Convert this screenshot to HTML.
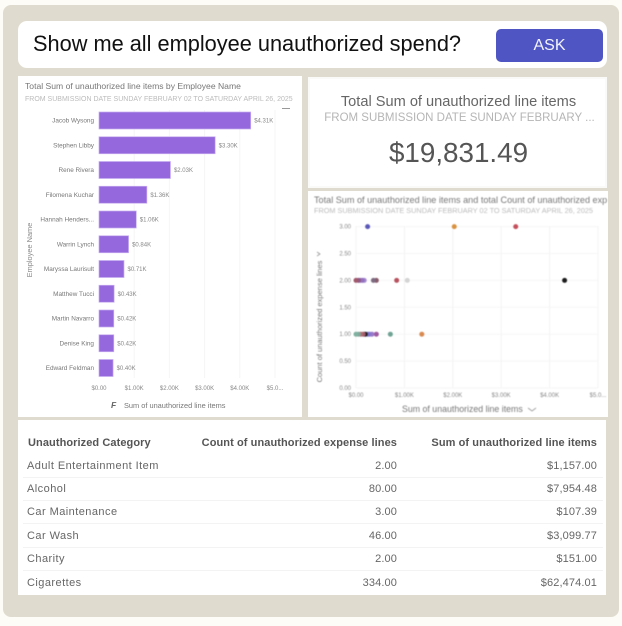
<!DOCTYPE html>
<html>
<head>
<meta charset="utf-8">
<style>
html,body{margin:0;padding:0;width:622px;height:626px;overflow:hidden;background:#fdfcf6;font-family:"Liberation Sans",sans-serif;}
.abs{position:absolute;}
#card{left:3px;top:5px;width:616px;height:612px;background:#dfdccf;border-radius:8px;}
#ask-bar{left:18px;top:21px;width:589px;height:47px;background:#fff;border-radius:9px;}
#q{left:33px;top:29px;font-size:21.75px;line-height:30px;color:#111;white-space:nowrap;filter:blur(.3px);}
#btn{left:496px;top:29px;width:107px;height:33px;background:#4f56c4;border-radius:5px;color:#f4f4fb;font-size:16px;line-height:33px;text-align:center;filter:blur(.3px);}
.panel{background:#fff;}
#bar-panel{left:18px;top:76px;width:284px;height:341px;}
#kpi-panel{left:308px;top:77px;width:299px;height:111px;background:#fff;box-sizing:border-box;border:2px solid #fafaf8;}
#kpi-t{left:309px;top:94px;width:299px;text-align:center;font-size:14.6px;color:#666;white-space:nowrap;filter:blur(.3px);}
#kpi-s{left:310px;top:111.5px;width:299px;text-align:center;font-size:11.5px;color:#b5b5b5;white-space:nowrap;filter:blur(.3px);}
#kpi-v{left:309px;top:137px;width:299px;text-align:center;font-size:27.8px;color:#555;filter:blur(.3px);}
#sc-panel{left:308px;top:191px;width:300px;height:226px;overflow:hidden;}
#table-panel{left:18px;top:420px;width:588px;height:175px;background:#fff;}
svg{position:absolute;left:0;top:0;}
svg text{font-family:"Liberation Sans",sans-serif;}
.cell{position:absolute;font-size:11px;letter-spacing:.45px;color:#666;white-space:nowrap;line-height:14px;filter:blur(.35px);font-family:"Liberation Sans",sans-serif;}
.h{font-weight:bold;color:#555;letter-spacing:.08px;}
.num{letter-spacing:.12px;}
.rule{position:absolute;left:23px;width:580px;height:1px;background:#f3f3f3;}
</style>
</head>
<body>
<div class="abs" id="card"></div>
<div class="abs" id="ask-bar"></div>
<div class="abs" id="q">Show me all employee unauthorized spend?</div>
<div class="abs" id="btn">ASK</div>
<div class="abs panel" id="bar-panel"></div>
<div class="abs" id="kpi-panel"></div>
<div class="abs" id="kpi-t">Total Sum of unauthorized line items</div>
<div class="abs" id="kpi-s">FROM SUBMISSION DATE SUNDAY FEBRUARY ...</div>
<div class="abs" id="kpi-v">$19,831.49</div>
<div class="abs panel" id="sc-panel"></div>
<div class="abs" id="table-panel"></div>
<svg id="bars" width="622" height="626" style="filter:blur(.35px)"></svg>
<svg id="scatter" width="622" height="626" style="filter:blur(.45px)"></svg>
<div id="tbl"></div>
<script>
const employees=["Jacob Wysong","Stephen Libby","Rene Rivera","Filomena Kuchar","Hannah Henders...","Warrin Lynch","Maryssa Laurisult","Matthew Tucci","Martin Navarro","Denise King","Edward Feldman"];
const spend=[4.31,3.30,2.03,1.36,1.06,0.84,0.71,0.43,0.42,0.42,0.40];
const spendLabels=["$4.31K","$3.30K","$2.03K","$1.36K","$1.06K","$0.84K","$0.71K","$0.43K","$0.42K","$0.42K","$0.40K"];
const barTicks=[0,1,2,3,4,5];
const barTickLabels=["$0.00","$1.00K","$2.00K","$3.00K","$4.00K","$5.0..."];
const scatterX=[0.24,2.03,3.30,4.31,1.06,0.84,0.42,0.36,0.17,0.13,0.09,0.05,0.00,1.36,0.71,0.42,0.33,0.28,0.24,0.19,0.15,0.10,0.05,0.00];
const scatterY=[3,3,3,2,2,2,2,2,2,2,2,2,2,1,1,1,1,1,1,1,1,1,1,1];
const scatterColors=["#5a58b8","#d9923f","#c4505c","#1c1c1c","#d4d4d4","#b8525e","#8a5a6a","#7d6a80","#a98bd0","#8f72c4","#9a6fb8","#8a5a8a","#a0586a","#d98a50","#6fa394","#a05aa0","#9a7ac8","#8f78d0","#7a72c8","#1c1c1c","#a05a6a","#b06a70","#7fa89a","#7fb0a0"];
const scatterXTicks=[0,1,2,3,4,5];
const scatterXLabels=["$0.00","$1.00K","$2.00K","$3.00K","$4.00K","$5.0..."];
const scatterYTicks=[0,0.5,1,1.5,2,2.5,3];
const scatterYLabels=["0.00","0.50","1.00","1.50","2.00","2.50","3.00"];
const tableCategories=["Adult Entertainment Item","Alcohol","Car Maintenance","Car Wash","Charity","Cigarettes"];
const tableCounts=["2.00","80.00","3.00","46.00","2.00","334.00"];
const tableSums=["$1,157.00","$7,954.48","$107.39","$3,099.77","$151.00","$62,474.01"];

const NS="http://www.w3.org/2000/svg";
function mk(parent,tag,attrs,txt){
  const e=document.createElementNS(NS,tag);
  for(const k in attrs)e.setAttribute(k,attrs[k]);
  if(txt!==undefined)e.textContent=txt;
  parent.appendChild(e);
  return e;
}
/* bar chart */
const bs=document.getElementById('bars');
const bx=v=>99+v*35.2;
const by=i=>120.5+i*24.75;
let t;
t=mk(bs,'text',{x:25,y:89,'font-size':8.6,fill:'#777'},"Total Sum of unauthorized line items by Employee Name");


t=mk(bs,'text',{x:25,y:101,'font-size':7,fill:'#bbb'},"FROM SUBMISSION DATE SUNDAY FEBRUARY 02 TO SATURDAY APRIL 26, 2025");


t=mk(bs,'rect',{x:282,y:108,width:8,height:1,fill:'#999'});


barTicks.forEach((v,i)=>{
  if(i>0){
    const g=mk(bs,'line',{x1:bx(v),x2:bx(v),y1:110,y2:378,stroke:'#f6f6f6','stroke-width':1});
    
    
  }
  const l=mk(bs,'text',{x:bx(v),y:390,'font-size':6,fill:'#888','text-anchor':'middle'},barTickLabels[i]);
  
  
});
employees.forEach((n,i)=>{
  const c=by(i);
  const lab=mk(bs,'text',{x:94,y:c+2,'font-size':6.4,fill:'#777','text-anchor':'end'},n);
  
  
  const r=mk(bs,'rect',{x:bx(0),y:c-8.5,width:bx(spend[i])-bx(0),height:17,fill:'#9569dd',stroke:'#c7aef0','stroke-width':.7});
  
  
  const v=mk(bs,'text',{x:bx(spend[i])+3.5,y:c+2,'font-size':6,fill:'#888'},spendLabels[i]);
  
  
});
t=mk(bs,'text',{transform:'translate(32,250) rotate(-90)','font-size':7.4,fill:'#888','text-anchor':'middle'},"Employee Name");


t=mk(bs,'text',{x:124,y:408,'font-size':7.4,fill:'#777'},"Sum of unauthorized line items");


t=mk(bs,'text',{x:111,y:408,'font-size':8.5,'font-weight':'bold','font-style':'italic',fill:'#666'},"F");



/* scatter chart */
const ss=document.getElementById('scatter');
const sx=v=>356+v*48.4;
const sy=v=>388-v*53.8;
t=mk(ss,'text',{x:314,y:203,'font-size':9.1,fill:'#777'},"Total Sum of unauthorized line items and total Count of unauthorized exp");


t=mk(ss,'text',{x:314,y:213,'font-size':7.3,fill:'#bbb'},"FROM SUBMISSION DATE SUNDAY FEBRUARY 02 TO SATURDAY APRIL 26, 2025");


scatterYTicks.forEach((v,i)=>{
  const g=mk(ss,'line',{x1:356,x2:598,y1:sy(v),y2:sy(v),stroke:'#f6f6f6','stroke-width':1});
  
  
  const l=mk(ss,'text',{x:351,y:sy(v)+2,'font-size':6,fill:'#888','text-anchor':'end'},scatterYLabels[i]);
  
  
});
scatterXTicks.forEach((v,i)=>{
  const g=mk(ss,'line',{x1:sx(v),x2:sx(v),y1:226,y2:388,stroke:'#f3f3f3','stroke-width':1});
  
  
  const l=mk(ss,'text',{x:sx(v),y:397,'font-size':6,fill:'#888','text-anchor':'middle'},scatterXLabels[i]);
  
  
});
scatterX.forEach((v,i)=>{
  const p=mk(ss,'circle',{cx:sx(v),cy:sy(scatterY[i]),r:2.5,fill:scatterColors[i]});
  
  
});
t=mk(ss,'text',{transform:'translate(322,321.5) rotate(-90)','font-size':7.5,fill:'#777','text-anchor':'middle'},"Count of unauthorized expense lines");


t=mk(ss,'text',{x:402,y:412,'font-size':8.8,fill:'#777'},"Sum of unauthorized line items");


t=mk(ss,'path',{d:'M528 408l4 3 4-3',fill:'none',stroke:'#999','stroke-width':.8});


t=mk(ss,'path',{d:'M317 252l3 2-3 2',fill:'none',stroke:'#999','stroke-width':.8});



/* table */
const tb=document.getElementById('tbl');
function cell(txt,y,left,right,cls){
  const d=document.createElement('div');
  d.className='cell '+(cls||'');
  d.textContent=txt;
  d.style.top=(y-6.5)+'px';
  if(left!==null)d.style.left=left+'px';
  else d.style.right=(622-right)+'px';
  
  
  tb.appendChild(d);
}
cell("Unauthorized Category",442,28,null,'h');
cell("Count of unauthorized expense lines",442,null,397,'h');
cell("Sum of unauthorized line items",442,null,597,'h');
const rowY=r=>465+r*23.4;
tableCategories.forEach((c,r)=>{
  cell(c,rowY(r),27,null);
  cell(tableCounts[r],rowY(r),null,397,'num');
  cell(tableSums[r],rowY(r),null,597,'num');
  if(r<tableCategories.length-1){
    const u=document.createElement('div');
    u.className='rule';
    u.style.top=Math.round(rowY(r)+11.5)+'px';
    
    
    tb.appendChild(u);
  }
});
</script>
</body>
</html>
